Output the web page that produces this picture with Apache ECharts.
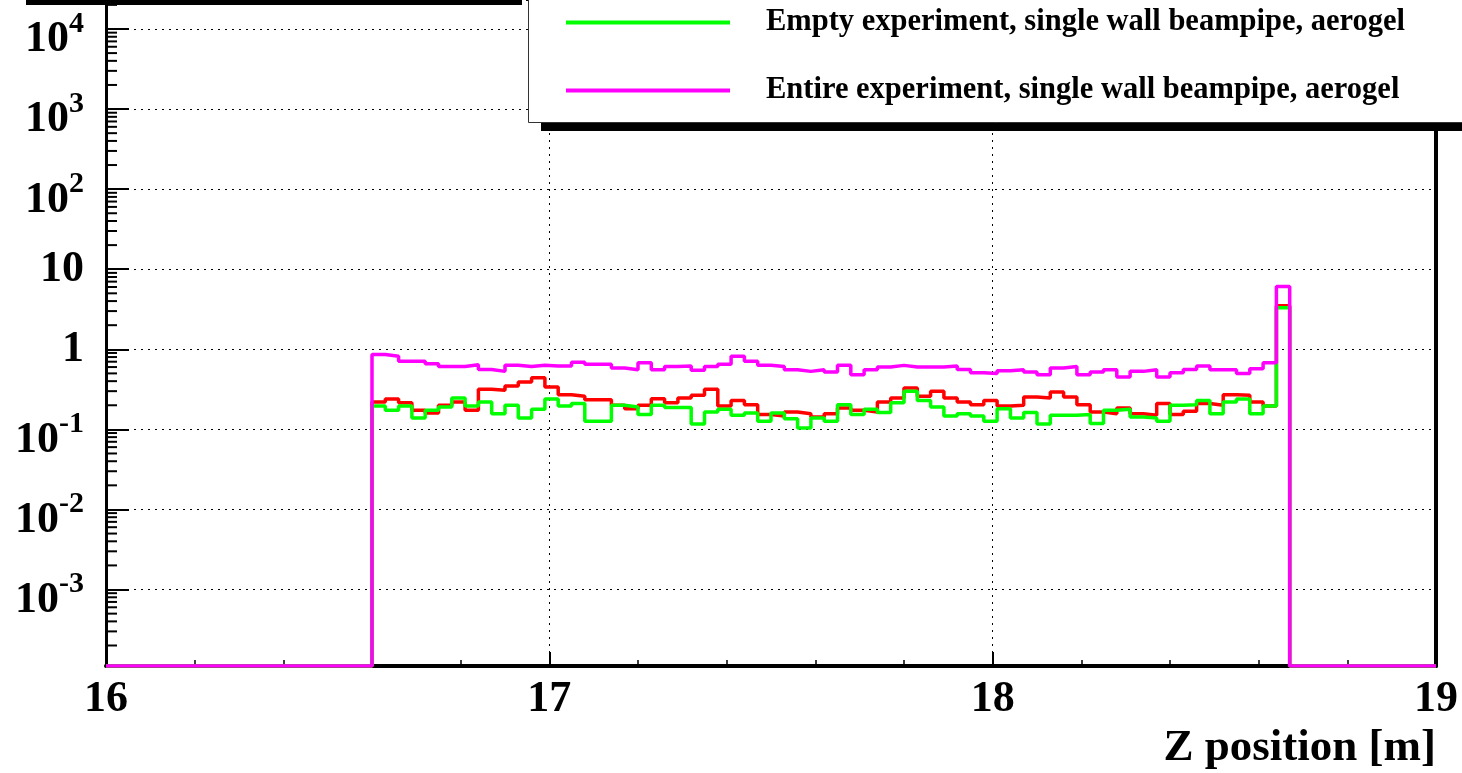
<!DOCTYPE html>
<html><head><meta charset="utf-8">
<script src="https://cdn.jsdelivr.net/npm/echarts@6/dist/echarts.min.js"></script>
<style>html,body{margin:0;padding:0;background:#fff}#c{width:1462px;height:773px}</style>
</head><body><div id="c"></div>
<script>
// Histogram binning: 100 bins of 0.03 m from 16 to 19 m; bins 20..88 filled
const binStart = 16.0;
const binWidth = 0.03;
const nBins = 100;
const firstFilledBin = 20;

// Bin contents (bins 20..88)
const redValues = [
  0.22, 0.24, 0.215, 0.173, 0.16, 0.2, 0.22, 0.173, 0.316, 0.307, 0.348, 0.39, 0.44, 0.338, 0.27, 0.26, 0.235,
  0.235, 0.2, 0.181, 0.2, 0.242, 0.215, 0.246, 0.266, 0.316, 0.196, 0.23, 0.203, 0.153, 0.147, 0.165, 0.157, 0.143, 0.157,
  0.185, 0.173, 0.165, 0.22, 0.246, 0.329, 0.26, 0.3, 0.246, 0.22, 0.203, 0.23, 0.196, 0.2, 0.254, 0.246, 0.293,
  0.254, 0.203, 0.165, 0.157, 0.185, 0.157, 0.15, 0.21, 0.153, 0.168, 0.21, 0.2, 0.27, 0.266, 0.22, 0.196,
  3.5
];
const greenValues = [
  0.196, 0.173, 0.196, 0.139, 0.173, 0.19, 0.246, 0.196, 0.22, 0.157, 0.2, 0.139, 0.178, 0.24, 0.196, 0.21, 0.126,
  0.126, 0.2, 0.19, 0.153, 0.2, 0.188, 0.188, 0.117, 0.165, 0.178, 0.15, 0.16, 0.126, 0.16, 0.136, 0.104, 0.139, 0.126,
  0.203, 0.153, 0.178, 0.162, 0.215, 0.3, 0.23, 0.19, 0.147, 0.157, 0.147, 0.126, 0.181, 0.139, 0.162, 0.117, 0.15,
  0.15, 0.153, 0.118, 0.173, 0.178, 0.143, 0.139, 0.126, 0.2, 0.203, 0.23, 0.157, 0.22, 0.24, 0.157, 0.196,
  3.3
];
const magentaValues = [
  0.86, 0.82, 0.71, 0.71, 0.66, 0.61, 0.61, 0.64, 0.56, 0.53, 0.63, 0.61, 0.63, 0.62, 0.62, 0.69, 0.65,
  0.65, 0.585, 0.557, 0.68, 0.557, 0.61, 0.62, 0.546, 0.61, 0.65, 0.82, 0.71, 0.63, 0.61, 0.557, 0.53, 0.557, 0.52,
  0.63, 0.48, 0.557, 0.6, 0.63, 0.6, 0.6, 0.6, 0.62, 0.56, 0.51, 0.5, 0.54, 0.557, 0.52, 0.48, 0.585,
  0.61, 0.48, 0.52, 0.557, 0.45, 0.53, 0.557, 0.45, 0.51, 0.56, 0.62, 0.557, 0.557, 0.5, 0.573, 0.68,
  6.1
];

const legendNames = [
  'Empty experiment, single wall beampipe, aerogel',
  'Entire experiment, single wall beampipe, aerogel'
];
const xTickValues = [16, 17, 18, 19];

const yMin = Math.pow(10, -3.955);
const yMax = Math.pow(10, 4.362);

function steps(vals) {
  const pts = [];
  let last = yMin;
  for (let i = 0; i < nBins; i++) {
    const j = i - firstFilledBin;
    const v = (j >= 0 && j < vals.length && vals[j] > 0) ? vals[j] : yMin;
    pts.push([+(binStart + i * binWidth).toFixed(4), v]);
    last = v;
  }
  pts.push([+(binStart + nBins * binWidth).toFixed(4), last]);
  return pts;
}

// log minor tick positions (2..9 x 10^k) inside the axis range
const minorTickVals = [];
for (let e = -4; e <= 4; e++) for (let m = 2; m <= 9; m++) {
  const v = m * Math.pow(10, e);
  if (v > yMin && v < yMax) minorTickVals.push([binStart, v]);
}

const font = 'Liberation Serif';
const dotted = { color: '#000', width: 1, type: [2, 5] };

const chart = echarts.init(document.getElementById('c'), null, { renderer: 'canvas' });
chart.setOption({
  animation: false,
  backgroundColor: '#fff',
  grid: { left: 106, right: 26, top: 0, bottom: 107, containLabel: false, outerBoundsMode: 'none' },
  xAxis: {
    type: 'value', min: xTickValues[0], max: xTickValues[xTickValues.length - 1], interval: 1,
    axisLine: { show: true, onZero: false, lineStyle: { color: '#000', width: 4 } },
    axisTick: { show: true, inside: true, length: 14, lineStyle: { color: '#000', width: 2 } },
    minorTick: { show: true, splitNumber: 5, length: 6, lineStyle: { color: '#000', width: 1.5 } },
    splitLine: { show: true, lineStyle: dotted },
    axisLabel: { margin: 12, fontSize: 44, fontWeight: 'bold', fontFamily: font, color: '#000' },
    name: 'Z position [m]', nameLocation: 'end', nameGap: 0,
    nameTextStyle: { fontSize: 45, fontWeight: 'bold', fontFamily: font, color: '#000',
      align: 'right', verticalAlign: 'top', padding: [60, 0, 0, 0] }
  },
  yAxis: [{
    type: 'log', logBase: 10, min: yMin, max: yMax,
    axisLine: { show: true, lineStyle: { color: '#000', width: 3 } },
    axisTick: { show: true, inside: true, length: 23, lineStyle: { color: '#000', width: 2 } },
    splitLine: { show: true, lineStyle: dotted },
    axisLabel: {
      margin: 22, showMinLabel: false, showMaxLabel: false, align: 'right',
      formatter: function (v) {
        const e = Math.round(Math.log10(v));
        if (e === 0) return '{p|1}';
        if (e === 1) return '{p|10}';
        return '{b|10}{s|' + e + '}';
      },
      rich: {
        p: { fontSize: 44, fontWeight: 'bold', fontFamily: font, color: '#000', lineHeight: 44 },
        b: { fontSize: 44, fontWeight: 'bold', fontFamily: font, color: '#000', lineHeight: 66,
             height: 44, verticalAlign: 'bottom' },
        s: { fontSize: 30, fontWeight: 'bold', fontFamily: font, color: '#000', lineHeight: 30,
             height: 56, verticalAlign: 'top' }
      }
    }
  }, {
    type: 'log', logBase: 10, min: yMin, max: yMax, position: 'right',
    axisLine: { show: true, lineStyle: { color: '#000', width: 4 } },
    axisTick: { show: false }, axisLabel: { show: false }, splitLine: { show: false }
  }],
  legend: {
    data: legendNames, orient: 'vertical', left: 566, top: 7, z: 20,
    icon: 'rect', itemWidth: 164, itemHeight: 4, itemGap: 37, padding: 0,
    textStyle: { fontSize: 30.5, fontWeight: 'bold', fontFamily: font, color: '#000', lineHeight: 30,
      padding: [0, 0, 0, 31] }
  },
  graphic: [
    { type: 'rect', z: 15, shape: { x: 26, y: 0, width: 496, height: 5 }, style: { fill: '#000' } },
    { type: 'rect', z: 15, shape: { x: 541, y: -10, width: 960, height: 141 }, style: { fill: '#000' } },
    { type: 'rect', z: 16, shape: { x: 528.5, y: -10, width: 960, height: 132.5 }, style: { fill: '#fff', stroke: '#333', lineWidth: 1 } }
  ],
  series: [
    { type: 'line', name: 'red histogram', data: steps(redValues), step: 'end', symbol: 'none',
      color: '#ff0000', lineStyle: { color: '#ff0000', width: 3.5 }, z: 3 },
    { type: 'line', name: legendNames[0], data: steps(greenValues), step: 'end', symbol: 'none',
      color: '#00ff00', lineStyle: { color: '#00ff00', width: 3.5 }, z: 4 },
    { type: 'line', name: legendNames[1], data: steps(magentaValues), step: 'end', symbol: 'none',
      color: '#ff00ff', lineStyle: { color: '#ff00ff', width: 3.5 }, z: 5 },
    { type: 'custom', name: 'minor ticks', data: minorTickVals, silent: true, z: 2,
      renderItem: function (params, api) {
        const p = api.coord([api.value(0), api.value(1)]);
        return { type: 'line', shape: { x1: p[0], y1: p[1], x2: p[0] + 11, y2: p[1] },
                 style: { stroke: '#000', lineWidth: 2 } };
      } }
  ]
});
</script></body></html>
